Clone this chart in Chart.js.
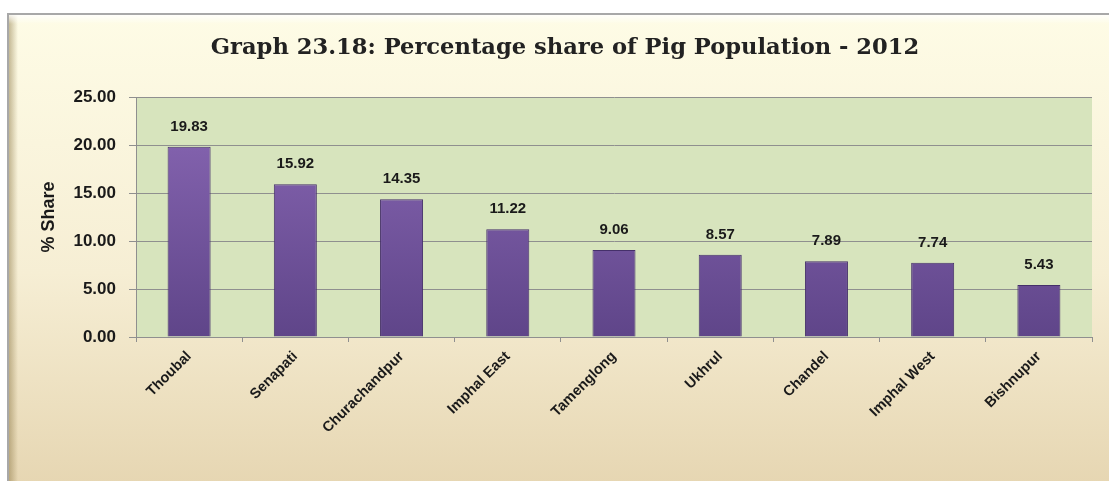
<!DOCTYPE html>
<html>
<head>
<meta charset="utf-8">
<script src="https://cdn.jsdelivr.net/npm/chart.js@4"></script>
<style>
html,body{margin:0;padding:0;background:#fff;}
#wrap{width:1109px;height:481px;position:relative;}
</style>
</head>
<body>
<div id="wrap"><canvas id="c" width="1109" height="481"></canvas></div>
<script>
const categories = ["Thoubal","Senapati","Churachandpur","Imphal East","Tamenglong","Ukhrul","Chandel","Imphal West","Bishnupur"];
const shareValues = [19.83,15.92,14.35,11.22,9.06,8.57,7.89,7.74,5.43];
const yTicks = [0,5,10,15,20,25];
const titleText = "Graph 23.18: Percentage share of Pig Population - 2012";
const yAxisTitle = "% Share";

const framePlugin = {
  id: 'frame',
  beforeDraw(chart) {
    const ctx = chart.ctx;
    ctx.save();
    ctx.fillStyle = '#ffffff';
    ctx.fillRect(0, 0, chart.width, chart.height);
    const x0 = 8, y0 = 14, x1 = chart.width + 4, y1 = chart.height + 4;
    const g = ctx.createLinearGradient(0, y0, 0, y1);
    g.addColorStop(0, '#fefce6');
    g.addColorStop(0.55, '#f6eed4');
    g.addColorStop(1, '#e6d6b2');
    ctx.fillStyle = g;
    ctx.fillRect(x0, y0, x1 - x0, y1 - y0);
    const lg = ctx.createLinearGradient(x0, 0, x0 + 10, 0);
    lg.addColorStop(0, 'rgba(140,120,70,0.55)');
    lg.addColorStop(1, 'rgba(140,120,70,0)');
    ctx.fillStyle = lg;
    ctx.fillRect(x0, y0, 10, y1 - y0);
    const tg = ctx.createLinearGradient(0, y0, 0, y0 + 10);
    tg.addColorStop(0, 'rgba(255,255,255,0.9)');
    tg.addColorStop(1, 'rgba(255,255,255,0)');
    ctx.fillStyle = tg;
    ctx.fillRect(x0, y0, x1 - x0, 10);
    ctx.strokeStyle = '#a8a8a8';
    ctx.lineWidth = 2;
    ctx.strokeRect(x0, y0, x1 - x0, y1 - y0);
    const a = chart.chartArea;
    ctx.fillStyle = '#d7e4bd';
    ctx.fillRect(a.left, a.top, a.right - a.left, a.bottom - a.top);
    ctx.restore();
  }
};

const labelPlugin = {
  id: 'vlabels',
  afterDatasetsDraw(chart) {
    const ctx = chart.ctx;
    const meta = chart.getDatasetMeta(0);
    ctx.save();
    ctx.font = 'bold 15px "Liberation Sans", Arial, sans-serif';
    ctx.fillStyle = '#1a1a1a';
    ctx.textAlign = 'center';
    ctx.textBaseline = 'middle';
    meta.data.forEach((bar, i) => {
      ctx.fillText(shareValues[i].toFixed(2), bar.x, bar.y - 20);
    });
    ctx.restore();
  }
};

const ctx = document.getElementById('c').getContext('2d');
new Chart(ctx, {
  type: 'bar',
  data: {
    labels: categories,
    datasets: [{
      data: shareValues,
      backgroundColor: (c) => {
        const a = c.chart.chartArea;
        if (!a) return '#7a5aa3';
        const g = c.chart.ctx.createLinearGradient(0, a.top, 0, a.bottom);
        g.addColorStop(0, '#8a68b5');
        g.addColorStop(1, '#5f4589');
        return g;
      },
      borderColor: '#45306a',
      borderWidth: 1,
      barPercentage: 0.405,
      categoryPercentage: 1.0
    }]
  },
  plugins: [framePlugin, labelPlugin],
  options: {
    responsive: false,
    animation: false,
    devicePixelRatio: 1,
    layout: { padding: { top: 28, left: 38, right: 17, bottom: 0 } },
    plugins: {
      legend: { display: false },
      tooltip: { enabled: false },
      title: {
        display: true,
        text: titleText,
        color: '#222222',
        font: { family: '"DejaVu Serif", Georgia, serif', size: 22.6, weight: 'bold', lineHeight: 1.2 },
        padding: { top: 7, bottom: 35 }
      }
    },
    scales: {
      x: {
        afterFit: (axis) => { axis.height = 144; },
        grid: { display: true, drawOnChartArea: false, drawTicks: true, tickLength: 5, color: '#8f8f8f', offset: true },
        border: { display: true, color: '#8f8f8f', width: 1 },
        ticks: {
          color: '#1a1a1a',
          font: { family: '"Liberation Sans", Arial, sans-serif', size: 14.5, weight: 'bold' },
          maxRotation: 45, minRotation: 45,
          padding: 6,
          autoSkip: false
        }
      },
      y: {
        min: 0, max: 25,
        afterFit: (axis) => { axis.width = 98; },
        afterBuildTicks: (axis) => { axis.ticks = yTicks.map(v => ({ value: v })); },
        grid: { color: '#8f8f8f', lineWidth: 1, drawTicks: true, tickLength: 7 },
        border: { display: true, color: '#8f8f8f', width: 1 },
        ticks: {
          color: '#1a1a1a',
          font: { family: '"Liberation Sans", Arial, sans-serif', size: 17, weight: 'bold' },
          padding: 13,
          callback: (v) => Number(v).toFixed(2)
        },
        title: {
          display: true,
          text: yAxisTitle,
          color: '#1a1a1a',
          font: { family: '"Liberation Sans", Arial, sans-serif', size: 18, weight: 'bold' },
          padding: 0
        }
      }
    }
  }
});
</script>
</body>
</html>
